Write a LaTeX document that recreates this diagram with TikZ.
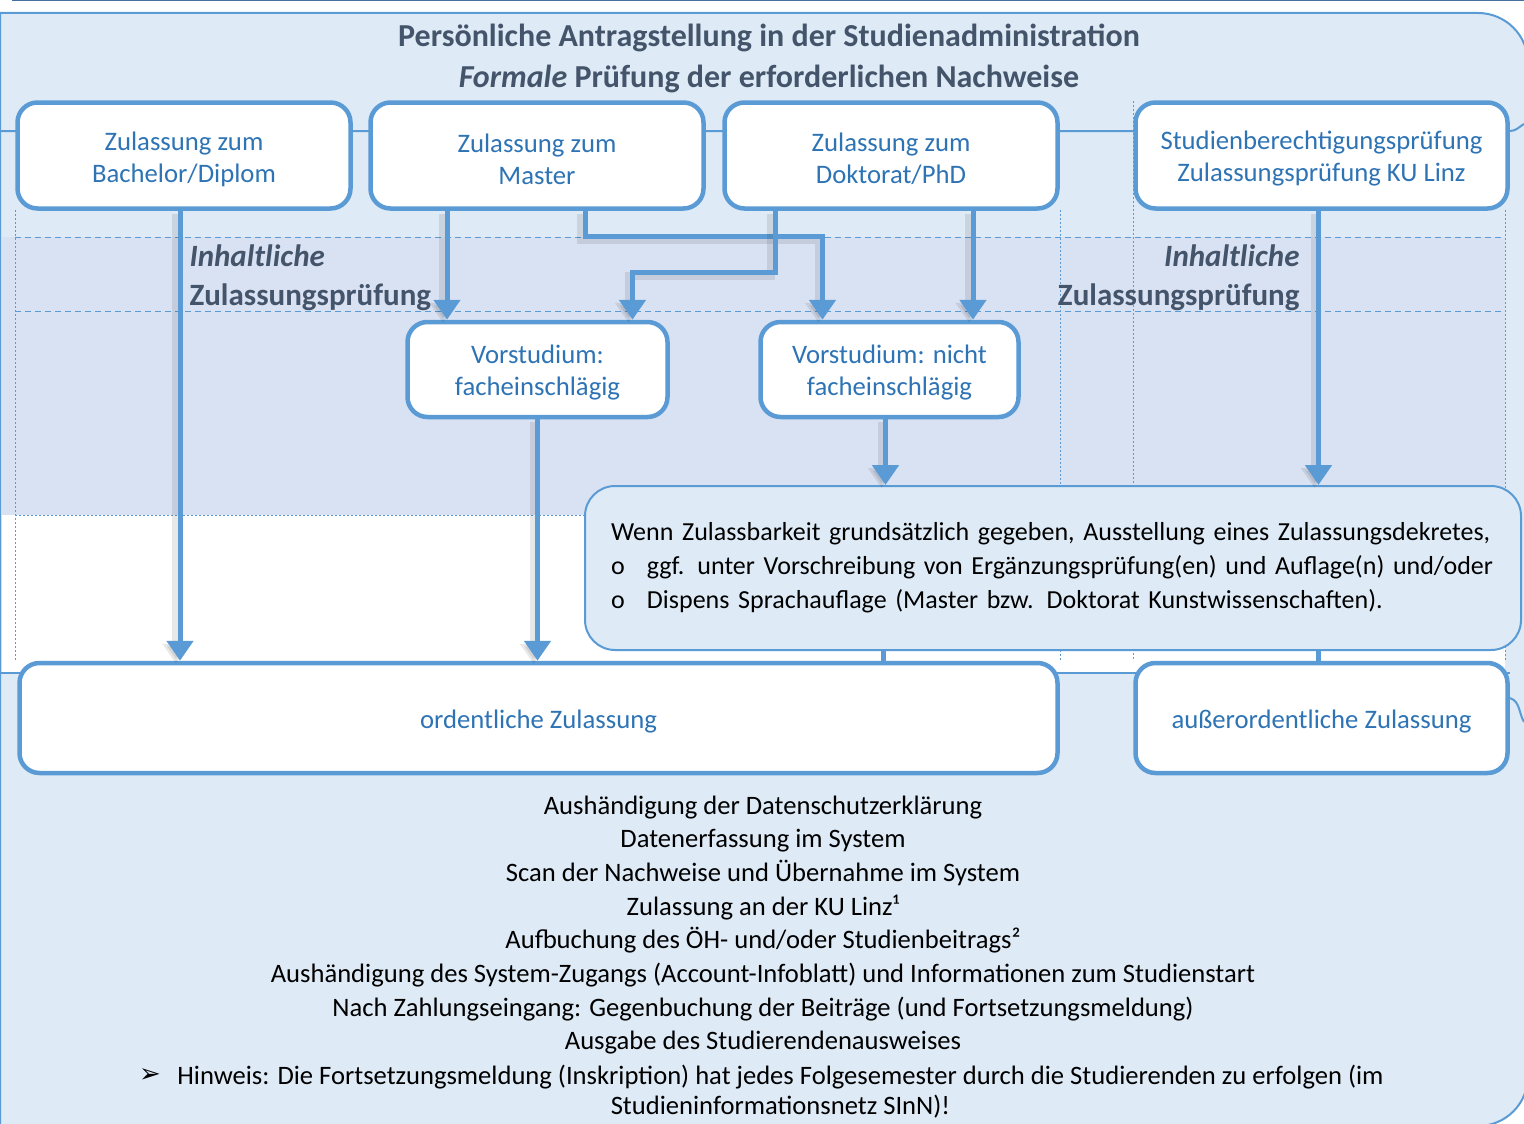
\documentclass[tikz,border=0pt]{standalone}
\usepackage{fontspec}
\setmainfont{Carlito}
\newfontfamily\symfont{DejaVu Sans}
\usetikzlibrary{arrows.meta}

\definecolor{zlblue}{HTML}{5B9BD5}
\definecolor{zltext}{HTML}{2E74B5}
\definecolor{zlhead}{HTML}{44546A}
\definecolor{zlpale}{HTML}{DEEAF6}
\definecolor{zlband}{HTML}{D9E2F3}
\definecolor{zldark}{HTML}{41719C}
\definecolor{zlbox}{HTML}{DEEBF7}

\tikzset{
  gridline/.style={draw=zlblue, line width=2pt},
  stage/.style={draw=zlblue, line width=4.5pt, fill=white, rounded corners=20pt,
    text=zltext, align=center, inner sep=0pt, font=\fontsize{26.7}{32}\selectfont},
  flow/.style={draw=zlblue, line width=5pt, -{Triangle[length=20pt,width=26pt]},
    preaction={draw=black, opacity=0.09, line width=8pt,
      transform canvas={xshift=-4pt,yshift=-3pt}}},
  link/.style={draw=zlblue, line width=5pt},
  headtext/.style={text=zlhead, align=center, font=\fontsize{32}{41}\selectfont\bfseries},
  bodytext/.style={align=center, font=\fontsize{26.6}{33.7}\selectfont},
}
\newcommand{\lowertext}{\rule{0pt}{25.5pt}}

\begin{document}
\begin{tikzpicture}[x=1pt, y=-1pt]
    \useasboundingbox (0,0) rectangle (1524,1124);
    % background and table grid
    \fill[zlpale] (0,13) [rounded corners=50pt] -- (1528,13) -- (1528,1126) [sharp corners] -- (0,1126) -- cycle;
    \fill[zlband] (2,237) rectangle (1505,515);
    \fill[white] (2,515) rectangle (1505,673);
    \draw[gridline] (0,1124) -- (0,13) [rounded corners=50pt] -- (1528,13) -- (1528,1126) -- (1400,1126);
    \draw[zldark, line width=2pt] (12,0.5) -- (1524,0.5);
    \draw[zlblue, line width=1pt, dash pattern=on 6pt off 4pt] (15,237) -- (1505,237);
    \draw[zlblue, line width=1pt, dash pattern=on 6pt off 4pt] (15,311) -- (1505,311);
    \foreach \gx/\gy in {15/210, 1060/210, 1133/101, 1505/210}
        \draw[zlblue, line width=1pt, dash pattern=on 2pt off 2pt] (\gx,\gy) -- (\gx,661);
    \draw[zlblue, line width=1pt, dash pattern=on 2pt off 2pt] (15,515) -- (584,515);
    \draw[gridline] (0,131) -- (1510,131) to[out=0, in=-150] (1524,124);
    \draw[gridline] (0,673) -- (1510,673);
    \draw[gridline] (1510,698) to[out=-20, in=120] (1524,722);

    % heading
    \node[headtext] (head) at (769,58) {Persönliche Antragstellung in der Studienadministration\\\textit{Formale} Prüfung der erforderlichen Nachweise};

    % entry boxes
    \node[stage, minimum width=333pt, minimum height=106pt] (bach) at (184,155.5) {\lowertext Zulassung zum\\Bachelor/Diplom};
    \node[stage, minimum width=333pt, minimum height=106pt] (master) at (537,155.5) {\lowertext Zulassung zum\\Master};
    \node[stage, minimum width=333pt, minimum height=106pt] (dokt) at (891,155.5) {\lowertext Zulassung zum\\Doktorat/PhD};
    \node[stage, minimum width=372pt, minimum height=106pt] (sbp) at (1321.5,155.5) {\lowertext Studienberechtigungsprüfung\\Zulassungsprüfung KU Linz};

    \node[headtext, anchor=west, align=left, font=\fontsize{31}{39}\selectfont\bfseries] (inhl) at (186,278) {\textit{Inhaltliche}\\Zulassungsprüfung};
    \node[headtext, anchor=east, align=right, font=\fontsize{31}{39}\selectfont\bfseries] (inhr) at (1303,278) {\textit{Inhaltliche}\\Zulassungsprüfung};

    \node[stage, minimum width=260pt, minimum height=95pt] (vfach) at (537.5,369.5) {\lowertext Vorstudium:\\facheinschlägig};
    \node[stage, minimum width=258pt, minimum height=95pt] (vnicht) at (889.5,369.5) {\lowertext Vorstudium: nicht\\facheinschlägig};

    \node[draw=zlblue, line width=2pt, fill=zlbox, rounded corners=30pt, minimum width=936pt, minimum height=164pt,
        text width=884pt, align=left, inner sep=0pt, font=\fontsize{26}{34}\selectfont] (dekret) at (1053,568)
        {Wenn Zulassbarkeit grundsätzlich gegeben, Ausstellung eines Zulassungsdekretes,\\
         \makebox[36pt][l]{o}ggf. unter Vorschreibung von Ergänzungsprüfung(en) und Auflage(n) und/oder\\
         \makebox[36pt][l]{o}Dispens Sprachauflage (Master bzw. Doktorat Kunstwissenschaften).};

    \node[stage, minimum width=1038pt, minimum height=110pt] (ord) at (538.5,718) {\lowertext ordentliche Zulassung};
    \node[stage, minimum width=372pt, minimum height=110pt] (auss) at (1321.5,718) {\lowertext außerordentliche Zulassung};

    % connectors
    \draw[flow] ([xshift=-4pt]bach.south) -- ([xshift=-4pt]bach.south |- ord.north);
    \draw[flow] ([xshift=-90pt]master.south) -- ([xshift=-90pt]master.south |- vfach.north);
    \draw[flow] ([xshift=48pt]master.south) -- ++(0,26) -| ([xshift=-67pt]vnicht.north);
    \draw[flow] ([xshift=-116pt]dokt.south) -- ++(0,62) -| ([xshift=95pt]vfach.north);
    \draw[flow] ([xshift=82pt]dokt.south) -- ([xshift=82pt]dokt.south |- vnicht.north);
    \draw[flow] ([xshift=-3pt]sbp.south) -- ([xshift=-3pt]sbp.south |- dekret.north);
    \draw[flow] (vfach.south) -- (vfach.south |- ord.north);
    \draw[flow] ([xshift=-4pt]vnicht.south) -- ([xshift=-4pt]vnicht.south |- dekret.north);
    \draw[link] ([xshift=-170pt]dekret.south) -- ([xshift=-170pt]dekret.south |- ord.north);
    \draw[link] ([xshift=265pt]dekret.south) -- ([xshift=265pt]dekret.south |- auss.north);

    % steps after admission
    \node[bodytext] (steps) at (763,925) {Aushändigung der Datenschutzerklärung\\
        Datenerfassung im System\\
        Scan der Nachweise und Übernahme im System\\
        Zulassung an der KU Linz¹\\
        Aufbuchung des ÖH- und/oder Studienbeitrags²\\
        Aushändigung des System-Zugangs (Account-Infoblatt) und Informationen zum Studienstart\\
        Nach Zahlungseingang: Gegenbuchung der Beiträge (und Fortsetzungsmeldung)\\
        Ausgabe des Studierendenausweises};
    \node[font=\symfont\fontsize{26}{30}\selectfont] (tick) at (150,1076) {➢};
    \node[bodytext, font=\fontsize{26.6}{30}\selectfont] (hint) at (780.5,1092) {Hinweis: Die Fortsetzungsmeldung (Inskription) hat jedes Folgesemester durch die Studierenden zu erfolgen (im\\Studieninformationsnetz SInN)!};
\end{tikzpicture}
\end{document}
